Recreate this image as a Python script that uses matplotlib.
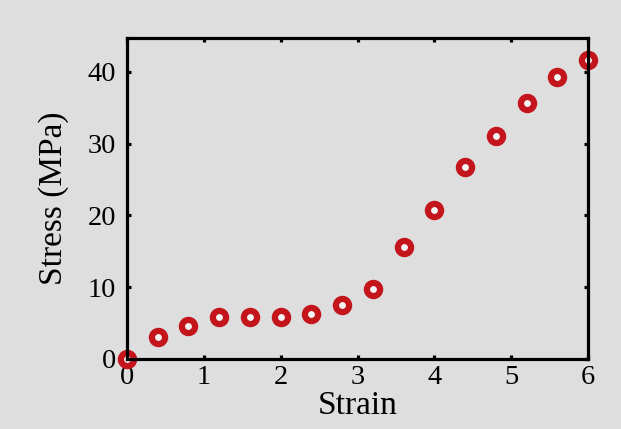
import matplotlib.pyplot as plt
import numpy as np

strain = [0, 0.4, 0.8, 1.2, 1.6, 2.0, 2.4, 2.8, 3.2, 3.6, 4.0, 4.4, 4.8, 5.2, 5.6, 6.0]
stress = [0, 3.0, 4.6, 5.9, 5.9, 5.9, 6.3, 7.5, 9.8, 15.6, 20.7, 26.8, 31.1, 35.7, 39.3, 41.6]

plt.rcParams['font.family'] = ['Liberation Serif', 'DejaVu Serif']

fig = plt.figure(figsize=(6.21, 4.29), dpi=100, facecolor="#dedede")
ax = fig.add_axes([127/621, 1 - 359/429, 461/621, 321/429])
ax.set_facecolor("#dedede")

# markers sit under the spines, like the reference
ax.plot(strain, stress, 'o', ms=9.5, mfc='#f4f4f4', mec='#c3151b', mew=4.5,
        clip_on=False, zorder=2)

ax.set_xlim(0, 6)
ax.set_ylim(0, 44.7)
ax.set_xticks(range(7))
ax.set_yticks([0, 10, 20, 30, 40])

for s in ax.spines.values():
    s.set_linewidth(2.3)
ax.tick_params(direction='in', length=3, width=2.3, top=True, right=True,
               labelsize=20.5)
ax.tick_params(axis='y', pad=8)
ax.tick_params(axis='x', pad=4)

ax.set_xlabel('Strain', fontsize=24, labelpad=1)
ax.set_ylabel('Stress (MPa)', fontsize=24, labelpad=13)

fig.savefig('out.png', dpi=100, facecolor=fig.get_facecolor())
